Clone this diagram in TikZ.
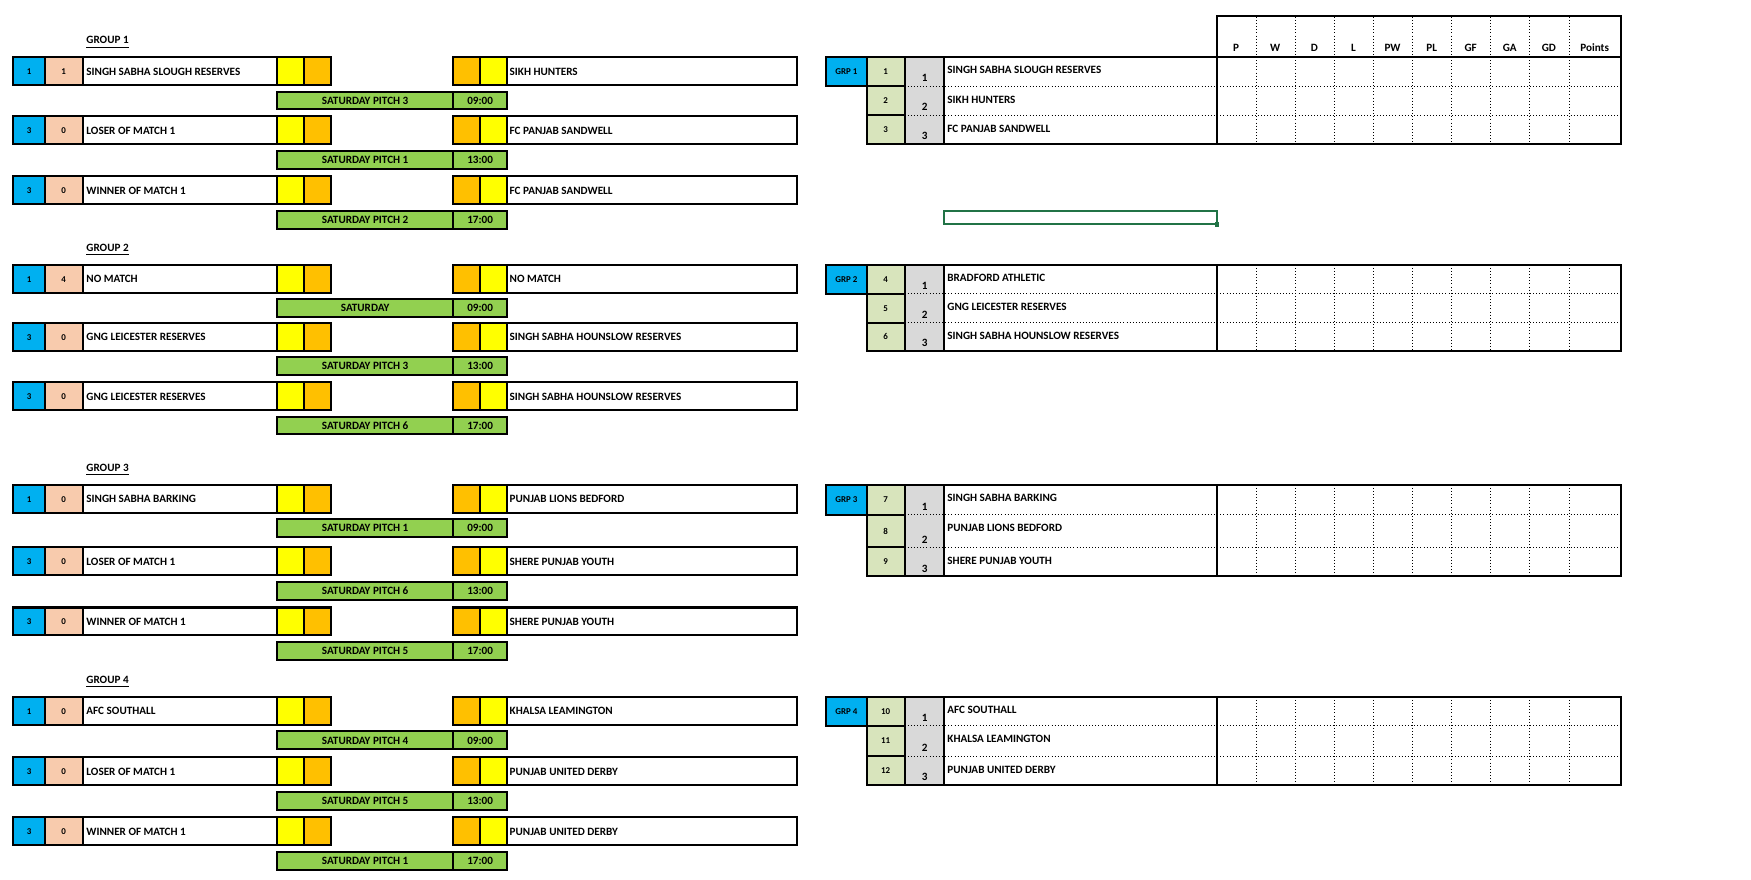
\documentclass[tikz,border=0pt]{standalone}
\usepackage{fontspec}
\setmainfont{Carlito}
\definecolor{idblue}{HTML}{00B0F0}
\definecolor{salmon}{HTML}{F8CBAD}
\definecolor{scoreyel}{HTML}{FFFF00}
\definecolor{scoreorg}{HTML}{FFC000}
\definecolor{pitchgreen}{HTML}{92D050}
\definecolor{seedgreen}{HTML}{D8E4BC}
\definecolor{posgray}{HTML}{D9D9D9}
\definecolor{selgreen}{HTML}{217346}
\tikzset{
  cell/.style={draw=black,line width=0.9pt},
  lbl/.style={font=\fontsize{5}{6}\selectfont\bfseries,inner sep=0pt},
  small_lbl/.style={font=\fontsize{4}{5}\selectfont\bfseries,inner sep=0pt},
  dotline/.style={densely dotted,line width=0.4pt}
}
\begin{document}
\begin{tikzpicture}[x=0.5pt,y=-0.5pt]
\useasboundingbox (0,0) rectangle (1568,788);
% group titles
\foreach \y/\g in {38/1,224/2,421/3,611/4}
  \node[lbl,anchor=west] (title\g) at (77,\y) {\underline{GROUP \g}};
% fixtures
\foreach \y/\a/\b/\home/\away/\pitch/\time in {
  51/1/1/SINGH SABHA SLOUGH RESERVES/SIKH HUNTERS/SATURDAY PITCH 3/09:00,
  104/3/0/LOSER OF MATCH 1/FC PANJAB SANDWELL/SATURDAY PITCH 1/13:00,
  158/3/0/WINNER OF MATCH 1/FC PANJAB SANDWELL/SATURDAY PITCH 2/17:00,
  237/1/4/NO MATCH/NO MATCH/SATURDAY/09:00,
  289/3/0/GNG LEICESTER RESERVES/SINGH SABHA HOUNSLOW RESERVES/SATURDAY PITCH 3/13:00,
  342/3/0/GNG LEICESTER RESERVES/SINGH SABHA HOUNSLOW RESERVES/SATURDAY PITCH 6/17:00,
  434/1/0/SINGH SABHA BARKING/PUNJAB LIONS BEDFORD/SATURDAY PITCH 1/09:00,
  490/3/0/LOSER OF MATCH 1/SHERE PUNJAB YOUTH/SATURDAY PITCH 6/13:00,
  544/3/0/WINNER OF MATCH 1/SHERE PUNJAB YOUTH/SATURDAY PITCH 5/17:00,
  624/1/0/AFC SOUTHALL/KHALSA LEAMINGTON/SATURDAY PITCH 4/09:00,
  678/3/0/LOSER OF MATCH 1/PUNJAB UNITED DERBY/SATURDAY PITCH 5/13:00,
  732/3/0/WINNER OF MATCH 1/PUNJAB UNITED DERBY/SATURDAY PITCH 1/17:00}{
  \draw[cell,fill=idblue] (12,\y) rectangle (40,\y+25);
  \draw[cell,fill=salmon] (40,\y) rectangle (74,\y+25);
  \draw[cell,fill=white] (74,\y) rectangle (248,\y+25);
  \draw[cell,fill=scoreyel] (248,\y) rectangle (272,\y+25);
  \draw[cell,fill=scoreorg] (272,\y) rectangle (296,\y+25);
  \draw[cell,fill=scoreorg] (406,\y) rectangle (430,\y+25);
  \draw[cell,fill=scoreyel] (430,\y) rectangle (454,\y+25);
  \draw[cell,fill=white] (454,\y) rectangle (714,\y+25);
  \node[small_lbl] (id\y) at (26,\y+13) {\a};
  \node[small_lbl] (seed\y) at (57,\y+13) {\b};
  \node[lbl,anchor=west] (home\y) at (77,\y+13) {\home};
  \node[lbl,anchor=west] (away\y) at (456,\y+13) {\away};
  \draw[cell,fill=pitchgreen] (248,\y+31) rectangle (406,\y+47);
  \draw[cell,fill=pitchgreen] (406,\y+31) rectangle (454,\y+47);
  \node[lbl] (pitch\y) at (327,\y+39) {\pitch};
  \node[lbl] (time\y) at (430,\y+39) {\time};
}
% league table header
\draw[cell] (1090,14) rectangle (1452,51);
\foreach \x/\h in {1107/P,1142/W,1177/D,1212/L,1247/PW,1282/PL,1317/GF,1352/GA,1387/GD,1428/Points}
  \node[lbl] (head\h) at (\x,43) {\h};
\foreach \x in {1125,1160,1195,1230,1265,1300,1335,1370,1405}
  \draw[dotline] (\x,15) -- (\x,51);
% standings
\foreach \g/\ya/\yb/\yc/\yd/\s/\ta/\tb/\tc in {
  1/51/77/103/129/1/SINGH SABHA SLOUGH RESERVES/SIKH HUNTERS/FC PANJAB SANDWELL,
  2/237/263/289/314/4/BRADFORD ATHLETIC/GNG LEICESTER RESERVES/SINGH SABHA HOUNSLOW RESERVES,
  3/434/461/490/516/7/SINGH SABHA BARKING/PUNJAB LIONS BEDFORD/SHERE PUNJAB YOUTH,
  4/624/650/677/703/10/AFC SOUTHALL/KHALSA LEAMINGTON/PUNJAB UNITED DERBY}{
  \draw[cell,fill=idblue] (740,\ya) rectangle (776,\yb);
  \node[small_lbl] (grp\g) at (758,\ya+13) {GRP \g};
  \fill[posgray] (810,\ya) rectangle (845,\yd);
  \draw[dotline] (810,\yb) -- (1452,\yb);
  \draw[dotline] (810,\yc) -- (1452,\yc);
  \foreach \x in {1125,1160,1195,1230,1265,1300,1335,1370,1405}
    \draw[dotline] (\x,\ya) -- (\x,\yd);
  \draw[cell,fill=seedgreen] (776,\ya) rectangle (810,\yb);
  \draw[cell,fill=seedgreen] (776,\yb) rectangle (810,\yc);
  \draw[cell,fill=seedgreen] (776,\yc) rectangle (810,\yd);
  \draw[cell] (776,\ya) rectangle (1452,\yd);
  \draw[cell] (810,\ya) -- (810,\yd) (845,\ya) -- (845,\yd) (1090,\ya) -- (1090,\yd);
  \pgfmathtruncatemacro\sb{\s+1}
  \pgfmathtruncatemacro\sc{\s+2}
  \node[small_lbl] (sa\g) at (793,{(\ya+\yb)/2}) {\s};
  \node[small_lbl] (sb\g) at (793,{(\yb+\yc)/2}) {\sb};
  \node[small_lbl] (sc\g) at (793,{(\yc+\yd)/2}) {\sc};
  \node[lbl] (pa\g) at (828,\yb-7) {1};
  \node[lbl] (pb\g) at (828,\yc-7) {2};
  \node[lbl] (pc\g) at (828,\yd-7) {3};
  \node[lbl,anchor=west] (ta\g) at (848,\ya+12) {\ta};
  \node[lbl,anchor=west] (tb\g) at (848,\yb+12) {\tb};
  \node[lbl,anchor=west] (tc\g) at (848,\yc+12) {\tc};
}
% selected cell
\draw[selgreen,line width=0.9pt] (845,189) rectangle (1090,201);
\fill[selgreen] (1088,199) rectangle (1092,203);
\end{tikzpicture}
\end{document}
